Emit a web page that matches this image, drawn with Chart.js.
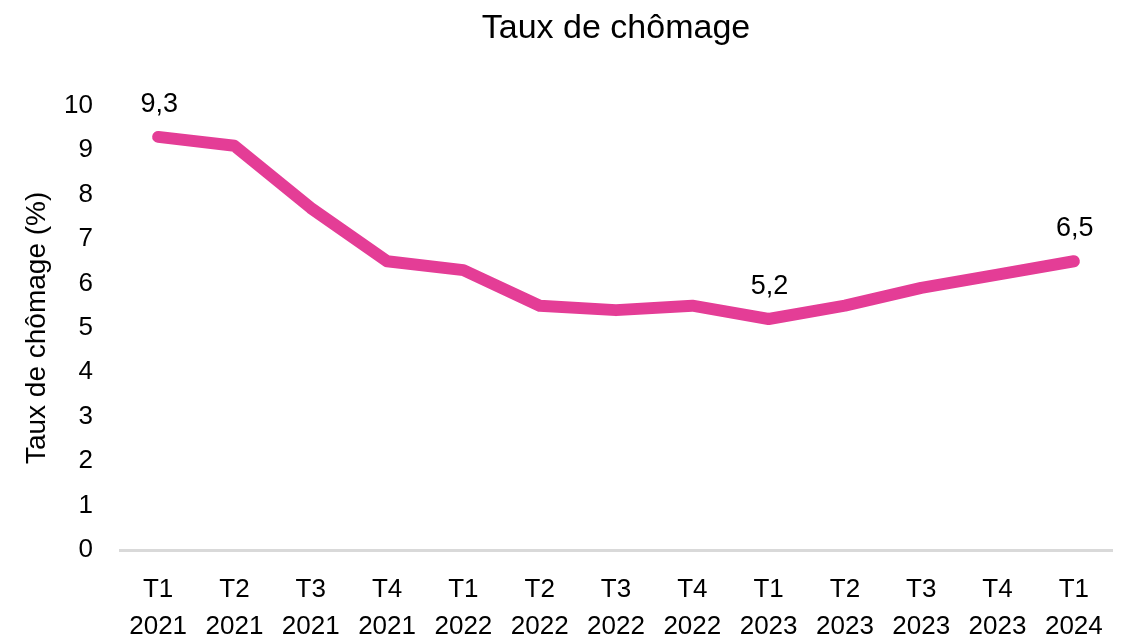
<!DOCTYPE html>
<html>
<head>
<meta charset="utf-8">
<script src="https://cdn.jsdelivr.net/npm/chart.js@4.4.1/dist/chart.umd.min.js"></script>
<style>
  html, body { margin: 0; padding: 0; background: #ffffff; }
  #wrap { width: 1127px; height: 639px; }
</style>
</head>
<body>
<div id="wrap"><canvas id="c" width="1127" height="639"></canvas></div>
<script>
const quarters = ["T1","T2","T3","T4","T1","T2","T3","T4","T1","T2","T3","T4","T1"];
const years = ["2021","2021","2021","2021","2022","2022","2022","2022","2023","2023","2023","2023","2024"];
const chomage = [9.3, 9.1, 7.7, 6.5, 6.3, 5.5, 5.4, 5.5, 5.2, 5.5, 5.9, 6.2, 6.5];
const labelledIdx = [0, 8, 12];
const yTicks = [0,1,2,3,4,5,6,7,8,9,10];

const categories = quarters.map((q, i) => [q, years[i]]);
const FONT = "'Liberation Sans', Arial, sans-serif";

const valueLabels = {
  id: 'valueLabels',
  afterDatasetsDraw(chart) {
    const ctx = chart.ctx;
    const meta = chart.getDatasetMeta(0);
    ctx.save();
    ctx.font = "27px " + FONT;
    ctx.fillStyle = "#000000";
    ctx.textAlign = "center";
    ctx.textBaseline = "alphabetic";
    labelledIdx.forEach(i => {
      const p = meta.data[i];
      const txt = chomage[i].toFixed(1).replace('.', ',');
      ctx.fillText(txt, p.x + 1, p.y - 25);
    });
    ctx.restore();
  }
};

new Chart(document.getElementById('c'), {
  type: 'line',
  data: {
    labels: categories,
    datasets: [{
      data: chomage,
      borderColor: '#E43D96',
      backgroundColor: '#E43D96',
      borderWidth: 12,
      borderCapStyle: 'round',
      borderJoinStyle: 'round',
      pointRadius: 0,
      pointHoverRadius: 0,
      tension: 0,
      fill: false
    }]
  },
  options: {
    responsive: false,
    animation: false,
    devicePixelRatio: 1,
    layout: { padding: { left: 0, right: 15, top: 0, bottom: 0 } },
    plugins: {
      legend: { display: false },
      tooltip: { enabled: false },
      title: {
        display: true,
        text: 'Taux de chômage',
        fullSize: false,
        color: '#000000',
        font: { family: FONT, size: 34, weight: 'normal', lineHeight: 1.2 },
        padding: { top: 8, bottom: 57 }
      }
    },
    scales: {
      x: {
        offset: true,
        grid: { display: false, drawTicks: false },
        border: { display: true, color: '#D9D9D9', width: 3 },
        ticks: {
          color: '#000000',
          font: { family: FONT, size: 26, lineHeight: 1.4 },
          padding: 22,
          maxRotation: 0,
          minRotation: 0,
          autoSkip: false
        },
        afterFit(s) { s.height = 89; }
      },
      y: {
        min: 0,
        max: 10,
        afterBuildTicks(s) { s.ticks = yTicks.map(v => ({ value: v })); },
        grid: { display: false, drawTicks: false },
        border: { display: false },
        ticks: {
          color: '#000000',
          font: { family: FONT, size: 26 },
          padding: 27,
          stepSize: 1
        },
        title: {
          display: true,
          text: 'Taux de chômage (%)',
          color: '#000000',
          font: { family: FONT, size: 28, lineHeight: 1.2 },
          padding: { top: 20, bottom: 0 }
        },
        afterFit(s) { s.width = 120; }
      }
    }
  },
  plugins: [valueLabels]
});
</script>
</body>
</html>
